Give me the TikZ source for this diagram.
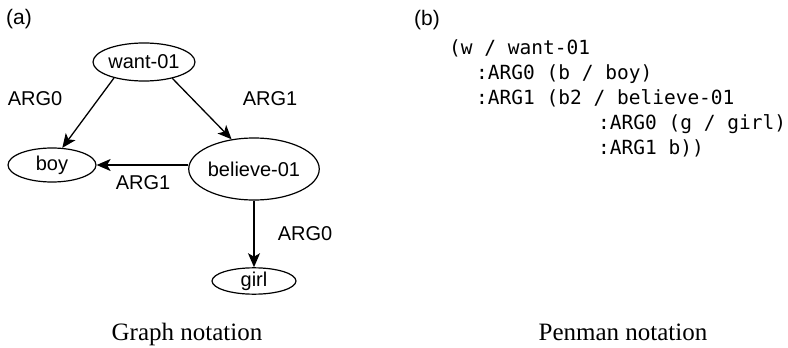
\documentclass[tikz,border=0pt]{standalone}
\usepackage{fontspec}
\setmainfont{Liberation Serif}
\setsansfont{Liberation Sans}
\setmonofont{DejaVu Sans Mono}
\usetikzlibrary{arrows.meta}
\usetikzlibrary{shapes.geometric}

\begin{document}
\begin{tikzpicture} [x=1pt, y=-1pt,
  concept/.style={draw, ellipse, line width=1.2pt, inner sep=0, font=\sffamily\fontsize{20}{24}\selectfont},
  arglabel/.style={font=\sffamily\fontsize{20}{24}\selectfont, inner sep=0},
  panel/.style={font=\sffamily\fontsize{21}{24}\selectfont, inner sep=0},
  penman/.style={anchor=base west, inner sep=0, font=\ttfamily\fontsize{19.5}{24}\selectfont},
  caption/.style={anchor=base, inner sep=0, font=\rmfamily\fontsize{25}{30}\selectfont},
  edge/.style={line width=1.3pt, -{Stealth[length=14pt, width=12pt, inset=3.5pt]}}]
\useasboundingbox (0,0) rectangle (788,348);
% graph notation
\node[panel] (panela) at (19,19) {(a)};
\node[concept, minimum width=102, minimum height=38] (want) at (144,62) {want-01};
\node[concept, minimum width=88, minimum height=34] (boy) at (52,165) {boy};
\node[concept, minimum width=120, minimum height=62] (believe) at (254,169) {believe-01};
\node[concept, minimum width=84, minimum height=26] (girl) at (254,281) {girl};
\draw[edge] (want.208) -- (boy.59);
\draw[edge] (want.330) -- (believe.127);
\draw[edge] (believe.west |- boy.east) -- (boy.east);
\draw[edge] (believe.south) -- (girl.north);
\node[arglabel] (lwb) at (35,99) {ARG0};
\node[arglabel] (lwl) at (270,99) {ARG1};
\node[arglabel] (lbb) at (143,183) {ARG1};
\node[arglabel] (lbg) at (305,234) {ARG0};
% penman notation
\node[panel] (panelb) at (427,20) {(b)};
\node[penman] (p1) at (449,54) {(w / want-01};
\node[penman] (p2) at (476,79) {:ARG0 (b / boy)};
\node[penman] (p3) at (476,104) {:ARG1 (b2 / believe-01};
\node[penman] (p4) at (598,129) {:ARG0 (g / girl)};
\node[penman] (p5) at (598,154) {:ARG1 b))};
% captions
\node[caption] (capa) at (187,340) {Graph notation};
\node[caption] (capb) at (623,340) {Penman notation};
\end{tikzpicture}
\end{document}
